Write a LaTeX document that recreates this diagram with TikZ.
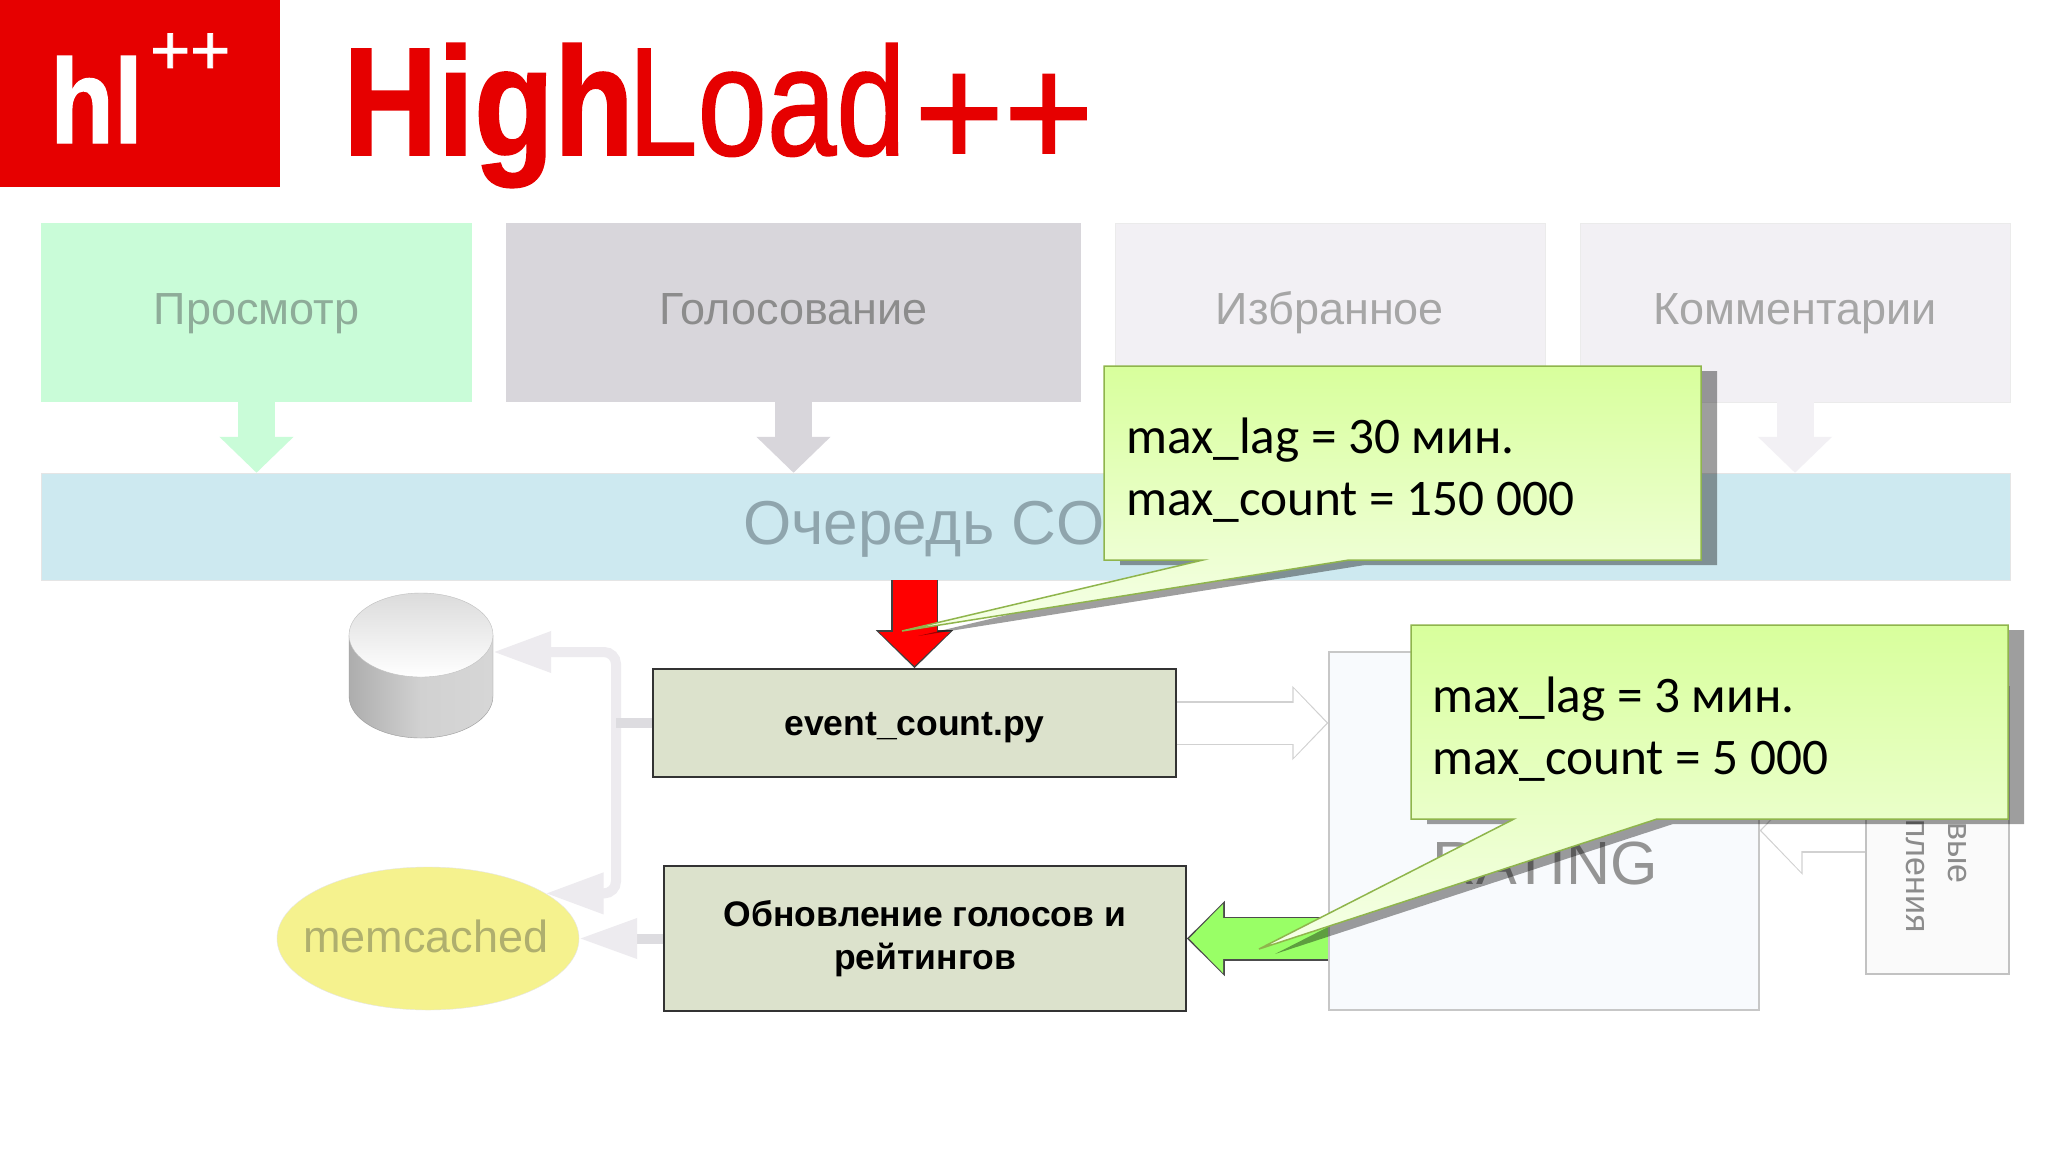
\documentclass[tikz,border=0pt]{standalone}
\usepackage{fontspec}
\setmainfont{Liberation Sans}
\newfontfamily\notefont{Carlito}
\newfontfamily\logofont[FakeBold=1.2]{Liberation Sans}
\newfontfamily\logoboldfont[FakeBold=1.2]{Liberation Sans Bold}
\usetikzlibrary{arrows.meta,shapes.geometric}
\definecolor{LogoRed}{HTML}{E60000}
\definecolor{ViewFill}{HTML}{C9FCD8}
\definecolor{ViewText}{HTML}{8EAC99}
\definecolor{VoteFill}{HTML}{D8D6DB}
\definecolor{PaleFill}{HTML}{F2F0F4}
\definecolor{QueueFill}{HTML}{CDE9F0}
\definecolor{QueueText}{HTML}{8FA5AD}
\definecolor{ScriptFill}{HTML}{DCE2CC}
\definecolor{MemFill}{HTML}{F5F28E}
\definecolor{MemText}{HTML}{AFAF6E}
\definecolor{RatingFill}{HTML}{F8FAFD}
\definecolor{FadeGrey}{HTML}{EDEBEF}
\definecolor{StubGrey}{HTML}{DDDCE0}
\definecolor{SpringGreen}{HTML}{99FF66}
\definecolor{NoteTop}{HTML}{D8FF9C}
\definecolor{NoteBottom}{HTML}{F6FFE8}
\definecolor{NoteEdge}{HTML}{8FB54C}
\begin{document}
\begin{tikzpicture}[x=1pt,y=-1pt]
  \tikzstyle{TopBox}=[rectangle,minimum height=179pt,inner sep=0pt,text height=33pt,text depth=9pt,
    font=\fontsize{45}{54}\selectfont]
  \tikzstyle{ScriptBox}=[rectangle,draw=black!80,line width=1.6pt,fill=ScriptFill,
    inner sep=0pt,align=center,font=\fontsize{35.5}{43}\selectfont\bfseries]
  \tikzstyle{NoteText}=[anchor=west,inner sep=0pt,align=left,text=black,
    font=\notefont\fontsize{51.3}{61.5}\selectfont]
  \tikzstyle{NoteShadow}=[fill=black,fill opacity=0.38]
  \tikzstyle{NoteShape}=[draw=NoteEdge,line width=1.5pt,top color=NoteTop,bottom color=NoteBottom]
  \tikzstyle{DownArrow}=[line width=37pt,-{Triangle[length=36pt,width=72pt]}]
  \tikzstyle{FadeArrow}=[draw=FadeGrey,line width=10pt,rounded corners=12pt,
    -{Triangle[length=58pt,width=39pt]}]
  \tikzstyle{RedEdge}=[draw=black!75,line width=47pt,-{Triangle[length=38pt,width=75pt]}]
  \tikzstyle{RedCore}=[draw=red,line width=44pt,-{Triangle[length=34pt,width=69pt]},shorten >=2.2pt]
  \tikzstyle{GreenEdge}=[draw=black!70,line width=44pt,-{Triangle[length=38pt,width=73pt]}]
  \tikzstyle{GreenCore}=[draw=SpringGreen,line width=41pt,-{Triangle[length=34pt,width=67pt]},shorten >=2.2pt]
  \tikzstyle{HollowEdge}=[draw=black!18,line width=44pt,-{Triangle[length=36pt,width=72pt]}]
  \tikzstyle{HollowCore}=[draw=white,line width=41pt,-{Triangle[length=33pt,width=67pt]},shorten >=1.8pt]
  \tikzstyle{WideEdge}=[draw=black!18,line width=44pt,-{Triangle[length=43pt,width=86pt]}]
  \tikzstyle{WideCore}=[draw=white,line width=41pt,-{Triangle[length=40pt,width=81pt]},shorten >=1.8pt]
  \useasboundingbox (0,0) rectangle (2048,1152);

  \fill[white] (0,0) rectangle (2048,1152);
  \node[rectangle,fill=LogoRed,minimum width=280pt,minimum height=187pt,inner sep=0pt] (logo) at (140,93.5) {};
  \node[anchor=base west,inner sep=0pt,text=white,font=\logoboldfont\fontsize{120}{120}\selectfont] (logohl) at (50,143) {\scalebox{0.87}[1]{hl}};
  \node[anchor=base west,inner sep=0pt,text=white,font=\logofont\fontsize{70}{70}\selectfont] (logoplus) at (150,74) {\scalebox{0.98}[1]{++}};
  \node[anchor=base west,inner sep=0pt,text=LogoRed,font=\logoboldfont\fontsize{154}{154}\selectfont] (titlehigh) at (343,155) {\scalebox{0.85}[1]{High}};
  \node[anchor=base west,inner sep=0pt,text=LogoRed,font=\logofont\fontsize{154}{154}\selectfont] (titleload) at (628,155) {\scalebox{0.81}[1]{Load}};
  \node[anchor=base west,inner sep=0pt,text=LogoRed,font=\logofont\fontsize{160}{160}\selectfont] (titleplus) at (914,167) {\scalebox{0.96}[1]{++}};

  \node[TopBox,fill=ViewFill,text=ViewText,minimum width=431pt] (view) at (256.5,312.5) {Просмотр};
  \node[TopBox,fill=VoteFill,text=black!45,minimum width=575pt] (vote) at (793.5,312.5) {Голосование};
  \node[TopBox,fill=PaleFill,draw=black!8,text=black!35,minimum width=430pt] (fav) at (1330,312.5) {Избранное};
  \node[TopBox,fill=PaleFill,draw=black!8,text=black!35,minimum width=430pt] (comment) at (1795,312.5) {Комментарии};
  \node[rectangle,fill=QueueFill,draw=black!10,minimum width=1969pt,minimum height=107pt,inner sep=0pt] (queue) at (1025.5,526.5) {};
  \node[anchor=west,inner sep=0pt,text=QueueText,font=\fontsize{62}{70}\selectfont] (queuetext) at (743,529) {Очередь CO};

  \draw[DownArrow,ViewFill] (view.south) -- (view.south |- queue.north);
  \draw[DownArrow,VoteFill] (vote.south) -- (vote.south |- queue.north);
  \draw[DownArrow,PaleFill] (comment.south) -- (comment.south |- queue.north);

  \node[rectangle,minimum width=144pt,minimum height=144pt,inner sep=0pt] (store) at (421,666) {};
  \draw[draw=black!40,left color=black!32,right color=black!16,middle color=black!18]
    (349,635) -- (349,696) .. controls (349,719.2) and (381.2,738) .. (421,738)
    .. controls (460.8,738) and (493,719.2) .. (493,696) -- (493,635) -- cycle;
  \draw[draw=black!25,top color=black!14,bottom color=white] (421,635) ellipse [x radius=72,y radius=42];
  \node[ellipse,fill=MemFill,draw=black!10,minimum width=302pt,minimum height=143pt,inner sep=0pt] (memcached) at (428,938.5) {};
  \node[inner sep=0pt,text=MemText,font=\fontsize{45}{54}\selectfont] (memtext) at (426,936) {memcached};
  \node[ScriptBox,minimum width=523pt,minimum height=108pt,text height=32pt] (event) at (914.5,723) {event\_count.py};
  \node[ScriptBox,minimum width=522pt,minimum height=145pt] (update) at (925,938.5) {Обновление голосов и\\рейтингов};
  \node[rectangle,fill=RatingFill,draw=black!22,line width=1.2pt,minimum width=430pt,minimum height=358pt,inner sep=0pt] (rating) at (1544,831) {};
  \node[inner sep=0pt,text=black!42,font=\fontsize{61}{70}\selectfont] (ratingtext) at (1545,863) {RATING};
  \node[rectangle,fill=black!2,draw=black!24,line width=1.2pt,minimum width=143pt,minimum height=287pt,inner sep=0pt] (fresh) at (1937.5,830.5) {};
  \node[rotate=-90,anchor=east,inner sep=0pt,text=black!45,font=\fontsize{34}{40}\selectfont] (freshone) at (1957,884) {вые};
  \node[rotate=-90,anchor=east,inner sep=0pt,text=black!45,font=\fontsize{34}{40}\selectfont] (freshtwo) at (1915,933) {пления};

  \coordinate (busjoint) at (616,723);
  \draw[FadeArrow] (busjoint) |- ([yshift=14pt]store.east);
  \draw[FadeArrow] (busjoint) |- (memcached.21);
  \draw[draw=StubGrey,line width=10pt] (event.west) -- (busjoint);
  \draw[draw=StubGrey,line width=10pt,-{Triangle[length=58pt,width=38pt,color=FadeGrey]}] (update.west |- memcached.east) -- (memcached.east);
  \draw[RedEdge] (event.north |- queue.south) -- (event.north);
  \draw[RedCore] (event.north |- queue.south) -- (event.north);
  \draw[GreenEdge] (rating.west |- update.east) -- (update.east);
  \draw[GreenCore] (rating.west |- update.east) -- (update.east);
  \draw[HollowEdge] (event.east) -- (event.east -| rating.west);
  \draw[HollowCore] (event.east) -- (event.east -| rating.west);
  \draw[WideEdge] (fresh.west) -- (rating.east |- fresh.west);
  \draw[WideCore] (fresh.west) -- (rating.east |- fresh.west);

  \fill[NoteShadow,shift={(16,5)}] (1104,366) -- (1701,366) -- (1701,560) -- (1349,560) -- (902,631) -- (1203,560) -- (1104,560) -- cycle;
  \draw[NoteShape] (1104,366) -- (1701,366) -- (1701,560) -- (1349,560) -- (902,631) -- (1203,560) -- (1104,560) -- cycle;
  \node[NoteText] (lagslow) at (1126,470) {max\_lag = 30 мин.\\max\_count = 150 000};

  \fill[NoteShadow,shift={(16,5)}] (1411,625) -- (2008,625) -- (2008,819) -- (1657,819) -- (1259,949) -- (1514,819) -- (1411,819) -- cycle;
  \draw[NoteShape] (1411,625) -- (2008,625) -- (2008,819) -- (1657,819) -- (1259,949) -- (1514,819) -- (1411,819) -- cycle;
  \node[NoteText] (lagfast) at (1432,729) {max\_lag = 3 мин.\\max\_count = 5 000};
\end{tikzpicture}
\end{document}
